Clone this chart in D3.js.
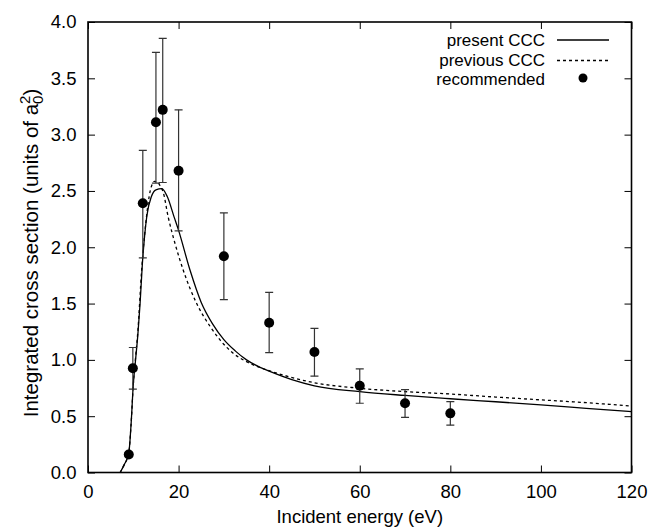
<!DOCTYPE html>
<html>
<head>
<meta charset="utf-8">
<script src="https://cdn.jsdelivr.net/npm/d3@7"></script>
<style>
  body { margin: 0; background: #fff; }
  text { font-family: "Liberation Sans", Arial, sans-serif; fill: #000; }
</style>
</head>
<body>
<div id="chart"></div>
<script>
// recommended data (eV, cross section, error bar low/high)
var recE    = [9, 9.9, 12.1, 15, 16.5, 20, 30, 40, 50, 60, 70, 80];
var recSig  = [0.16, 0.925, 2.39, 3.11, 3.22, 2.68, 1.92, 1.33, 1.07, 0.77, 0.615, 0.525];
var recLow  = [0.14, 0.74, 1.905, 2.57, 2.575, 2.145, 1.535, 1.065, 0.855, 0.615, 0.49, 0.42];
var recHigh = [0.18, 1.11, 2.86, 3.73, 3.855, 3.22, 2.305, 1.60, 1.28, 0.92, 0.735, 0.63];

// present CCC (solid)
var presE   = [7.1, 8, 9, 9.5, 10, 10.5, 11, 11.5, 12, 12.5, 13, 14, 15, 16.3, 17.5, 19, 20, 22.5, 25, 27.5, 30, 32.5, 35, 38, 40, 45, 50, 60, 70, 80, 90, 100, 110, 120];
var presSig = [0, 0.07, 0.17, 0.42, 0.78, 1.0, 1.22, 1.5, 1.85, 2.1, 2.28, 2.45, 2.51, 2.52, 2.45, 2.27, 2.15, 1.80, 1.51, 1.32, 1.18, 1.08, 1.0, 0.934, 0.90, 0.825, 0.77, 0.718, 0.684, 0.655, 0.628, 0.60, 0.57, 0.54];

// previous CCC (dashed)
var prevE   = [7.1, 8, 9, 9.5, 10, 10.5, 11, 11.85, 13, 13.5, 14, 14.65, 15.3, 16, 16.6, 17.7, 19.2, 21, 24, 27, 29.1, 32, 35, 39.5, 43, 50, 60, 70, 80, 90, 100, 110, 120];
var prevSig = [0, 0.07, 0.17, 0.42, 0.78, 1.02, 1.25, 1.80, 2.30, 2.45, 2.54, 2.585, 2.58, 2.54, 2.49, 2.27, 2.035, 1.80, 1.50, 1.295, 1.18, 1.06, 0.984, 0.91, 0.866, 0.797, 0.748, 0.718, 0.697, 0.67, 0.645, 0.62, 0.59];

var legendNames = ['present CCC', 'previous CCC', 'recommended'];

var width = 649, height = 529;
var margin = {left: 88, right: 17.5, top: 22, bottom: 56.5};
var fs = 18.5;

var svg = d3.select('#chart').append('svg')
    .attr('width', width).attr('height', height);

var x = d3.scaleLinear().domain([0, 120]).range([margin.left, width - margin.right]);
var y = d3.scaleLinear().domain([0, 4]).range([height - margin.bottom, margin.top]);

var majorX = d3.range(0, 121, 20), minorX = d3.range(0, 121, 4);
var majorY = d3.range(0, 4.01, 0.5), minorY = d3.range(0, 4.001, 0.1);

// bottom + top axes (ticks point inward)
var gx = svg.append('g').attr('transform', 'translate(0,' + y(0) + ')');
gx.call(d3.axisBottom(x).tickValues(minorX).tickSize(-4).tickFormat(''));
gx.call(d3.axisBottom(x).tickValues(majorX).tickSize(-7).tickPadding(12).tickFormat(d3.format('d')));
var gxTop = svg.append('g').attr('transform', 'translate(0,' + y(4) + ')');
gxTop.call(d3.axisTop(x).tickValues(minorX).tickSize(-4).tickFormat(''));
gxTop.call(d3.axisTop(x).tickValues(majorX).tickSize(-7).tickFormat(''));

// left + right axes
var gy = svg.append('g').attr('transform', 'translate(' + x(0) + ',0)');
gy.call(d3.axisLeft(y).tickValues(minorY).tickSize(-4).tickFormat(''));
gy.call(d3.axisLeft(y).tickValues(majorY).tickSize(-7).tickPadding(11.5).tickFormat(d3.format('.1f')));
var gyR = svg.append('g').attr('transform', 'translate(' + x(120) + ',0)');
gyR.call(d3.axisRight(y).tickValues(minorY).tickSize(-4).tickFormat(''));
gyR.call(d3.axisRight(y).tickValues(majorY).tickSize(-7).tickFormat(''));

svg.selectAll('.domain').remove();
svg.selectAll('.tick line').attr('stroke', '#000').attr('stroke-width', 1);
svg.selectAll('.tick text').attr('font-size', fs).attr('font-family', '"Liberation Sans", Arial, sans-serif');

// frame
svg.append('rect')
    .attr('x', x(0)).attr('y', y(4))
    .attr('width', x(120) - x(0)).attr('height', y(0) - y(4))
    .attr('fill', 'none').attr('stroke', '#000').attr('stroke-width', 1.6);

// axis titles
svg.append('text')
    .attr('x', (x(0) + x(120)) / 2).attr('y', 523)
    .attr('text-anchor', 'middle').attr('font-size', fs)
    .text('Incident energy (eV)');

var yt = svg.append('text')
    .attr('transform', 'translate(38,253) rotate(-90)')
    .attr('text-anchor', 'middle').attr('font-size', 20.5);
yt.append('tspan').text('Integrated cross section (units of a');
yt.append('tspan').attr('font-size', 15).attr('dy', 5).text('0');
yt.append('tspan').attr('font-size', 15).attr('dx', -8.3).attr('dy', -13).text('2');
yt.append('tspan').attr('dy', 8).text(')');

// clip curves to plot area
svg.append('clipPath').attr('id', 'clip').append('rect')
    .attr('x', x(0)).attr('y', y(4))
    .attr('width', x(120) - x(0)).attr('height', y(0) - y(4));

var line = d3.line()
    .x(function(d) { return x(d[0]); })
    .y(function(d) { return y(d[1]); })
    .curve(d3.curveMonotoneX);

var plot = svg.append('g').attr('clip-path', 'url(#clip)');

plot.append('path')
    .datum(d3.zip(prevE, prevSig))
    .attr('d', line)
    .attr('fill', 'none').attr('stroke', '#000').attr('stroke-width', 1.3)
    .attr('stroke-dasharray', '3,3');

plot.append('path')
    .datum(d3.zip(presE, presSig))
    .attr('d', line)
    .attr('fill', 'none').attr('stroke', '#000').attr('stroke-width', 1.3);

// error bars
var rec = recE.map(function(e, i) {
    return {e: e, s: recSig[i], lo: recLow[i], hi: recHigh[i]};
});

var eb = plot.selectAll('g.err').data(rec).enter().append('g').attr('class', 'err');
eb.append('line')
    .attr('x1', function(d) { return x(d.e); }).attr('x2', function(d) { return x(d.e); })
    .attr('y1', function(d) { return y(d.lo); }).attr('y2', function(d) { return y(d.hi); });
eb.append('line')
    .attr('x1', function(d) { return x(d.e) - 4; }).attr('x2', function(d) { return x(d.e) + 4; })
    .attr('y1', function(d) { return y(d.lo); }).attr('y2', function(d) { return y(d.lo); });
eb.append('line')
    .attr('x1', function(d) { return x(d.e) - 4; }).attr('x2', function(d) { return x(d.e) + 4; })
    .attr('y1', function(d) { return y(d.hi); }).attr('y2', function(d) { return y(d.hi); });
eb.selectAll('line').attr('stroke', '#333').attr('stroke-width', 1.2);

plot.selectAll('circle.rec').data(rec).enter().append('circle')
    .attr('class', 'rec')
    .attr('cx', function(d) { return x(d.e); })
    .attr('cy', function(d) { return y(d.s); })
    .attr('r', 5).attr('fill', '#000');

// legend
var lg = svg.append('g');
var rowY = [46, 65.5, 85];
legendNames.forEach(function(name, i) {
    lg.append('text')
        .attr('x', 545).attr('y', rowY[i])
        .attr('text-anchor', 'end').attr('font-size', 17)
        .text(name);
});
lg.append('line').attr('x1', 557).attr('x2', 609).attr('y1', rowY[0] - 6).attr('y2', rowY[0] - 6)
    .attr('stroke', '#000').attr('stroke-width', 1.3);
lg.append('line').attr('x1', 557).attr('x2', 609).attr('y1', rowY[1] - 5).attr('y2', rowY[1] - 5)
    .attr('stroke', '#000').attr('stroke-width', 1.3).attr('stroke-dasharray', '3,3');
lg.append('circle').attr('cx', 583).attr('cy', rowY[2] - 7).attr('r', 4.5).attr('fill', '#000');
</script>
</body>
</html>
